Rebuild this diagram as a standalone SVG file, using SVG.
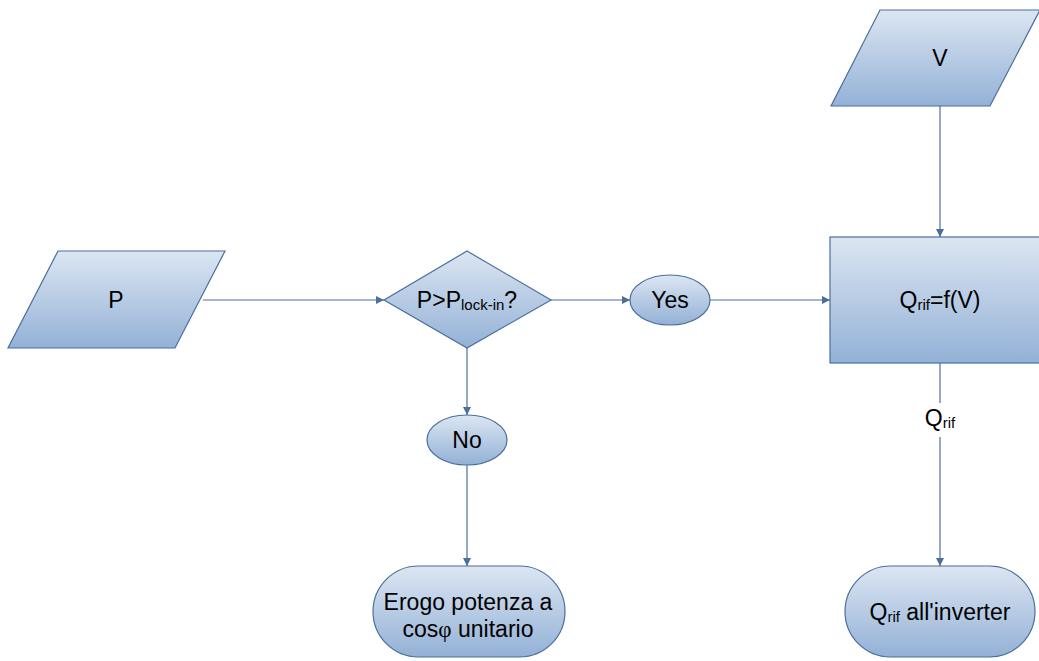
<svg xmlns="http://www.w3.org/2000/svg" width="1039" height="661" viewBox="0 0 1039 661">
<defs>
<linearGradient id="g" x1="0" y1="0" x2="0" y2="1">
<stop offset="0" stop-color="#dce6f2"/>
<stop offset="1" stop-color="#93b1d6"/>
</linearGradient>
<marker id="arr" viewBox="0 0 10 10" refX="10" refY="5" markerWidth="10" markerHeight="8" markerUnits="userSpaceOnUse" orient="auto">
<path d="M0,0 L10,5 L0,10 z" fill="#4a6e9e"/>
</marker>
<style>
.s{fill:url(#g);stroke:#4a6e9e;stroke-width:1.2}
.c{fill:none;stroke:#4a6e9e;stroke-width:1.2;marker-end:url(#arr)}
text{font-family:"Liberation Sans",Arial,sans-serif;font-size:23px;fill:#000;text-anchor:middle;dominant-baseline:central}
.sub{font-size:15px}
</style>
</defs>
<rect width="1039" height="661" fill="#fff"/>
<g id="connectors">
<line class="c" x1="203" y1="300" x2="384" y2="300"/>
<line class="c" x1="551" y1="300" x2="630" y2="300"/>
<line class="c" x1="710" y1="300" x2="830" y2="300"/>
<line class="c" x1="940" y1="106" x2="940" y2="237"/>
<line class="c" x1="467" y1="348" x2="467" y2="415"/>
<line class="c" x1="467" y1="465" x2="467" y2="566"/>
<line class="c" x1="940" y1="363" x2="940" y2="566"/>
<rect x="918" y="403" width="44" height="34" fill="#fff"/>
<text x="940" y="418"><tspan>Q</tspan><tspan class="sub" dy="4">rif</tspan></text>
</g>
<g id="node-p">
<polygon class="s" points="58,251 225,251 175,348 8,348"/>
<text x="116" y="300">P</text>
</g>
<g id="node-v">
<polygon class="s" points="880,10 1040,10 990,106 831,106"/>
<text x="940" y="58">V</text>
</g>
<g id="node-decision">
<polygon class="s" points="467,251 551,300 467,348 384,300"/>
<text x="467" y="300"><tspan>P&gt;P</tspan><tspan class="sub" dy="4">lock-in</tspan><tspan dy="-4">?</tspan></text>
</g>
<g id="node-yes">
<ellipse class="s" cx="670" cy="300" rx="40" ry="25"/>
<text x="670" y="300">Yes</text>
</g>
<g id="node-no">
<ellipse class="s" cx="467" cy="440" rx="40" ry="25"/>
<text x="467" y="440">No</text>
</g>
<g id="node-qrif">
<rect class="s" x="830" y="237" width="215" height="126"/>
<text x="940" y="300"><tspan>Q</tspan><tspan class="sub" dy="4">rif</tspan><tspan dy="-4">=f(V)</tspan></text>
</g>
<g id="node-erogo">
<rect class="s" x="373" y="566" width="192" height="91" rx="45.5" ry="45.5"/>
<text x="468" y="602">Erogo potenza a</text>
<text x="468" y="629">cos<tspan font-family="'Liberation Serif',serif">φ</tspan> unitario</text>
</g>
<g id="node-out">
<rect class="s" x="845" y="566" width="190" height="91" rx="45.5" ry="45.5"/>
<text x="940" y="612"><tspan>Q</tspan><tspan class="sub" dy="4">rif</tspan><tspan dy="-4"> all'inverter</tspan></text>
</g>
</svg>
